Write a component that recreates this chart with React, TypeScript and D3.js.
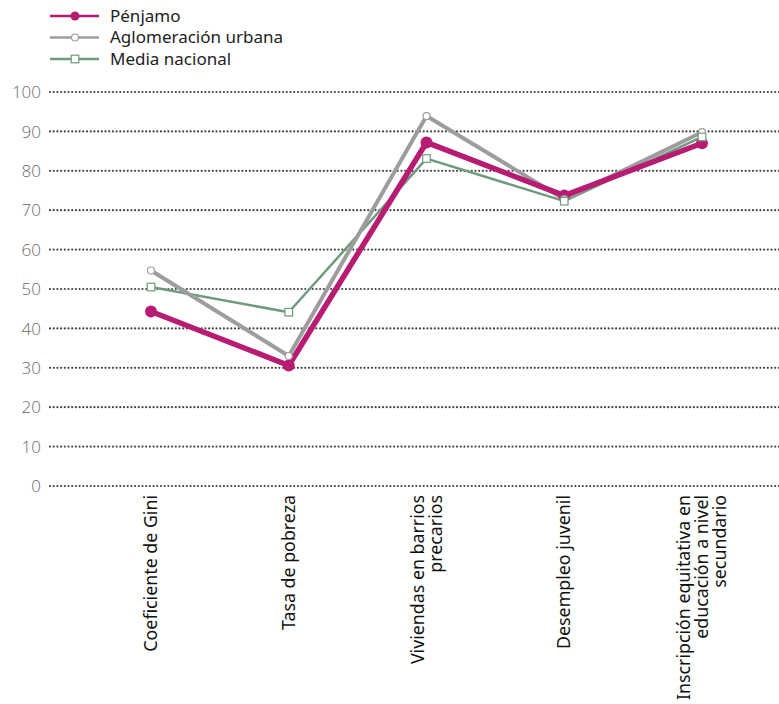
import React, { useEffect, useRef } from 'react';
import * as d3 from 'd3';

// categorías del eje x (con saltos de línea)
const categories = [
  ['Coeficiente de Gini'],
  ['Tasa de pobreza'],
  ['Viviendas en barrios', 'precarios'],
  ['Desempleo juvenil'],
  ['Inscripción equitativa en', 'educación a nivel', 'secundario'],
];

const penjamo = [44.3, 30.6, 87.2, 73.7, 87.0];
const aglomeracion = [54.7, 33.0, 93.9, 72.8, 89.8];
const mediaNacional = [50.5, 44.1, 83.1, 72.3, 88.6];

const yTicks = [0, 10, 20, 30, 40, 50, 60, 70, 80, 90, 100];

type Series = {
  name: string;
  values: number[];
  color: string;
  width: number;
  marker: 'dot' | 'circle' | 'square';
};

const series: Series[] = [
  { name: 'Media nacional', values: mediaNacional, color: '#6f9a7c', width: 2.5, marker: 'square' },
  { name: 'Aglomeración urbana', values: aglomeracion, color: '#9d9d9d', width: 4, marker: 'circle' },
  { name: 'Pénjamo', values: penjamo, color: '#b81c72', width: 5.5, marker: 'dot' },
];

const legendOrder = ['Pénjamo', 'Aglomeración urbana', 'Media nacional'];

const W = 779;
const H = 704;

const App: React.FC = () => {
  const svgRef = useRef<SVGSVGElement>(null);

  useEffect(() => {
    if (!svgRef.current) return;
    const svg = d3.select(svgRef.current);
    svg.selectAll('*').remove();

    const keys = categories.map((c) => c.join(' '));
    const x = d3.scalePoint<string>().domain(keys).range([151, 702]);
    const y = d3.scaleLinear().domain([0, 100]).range([486, 92]);

    // líneas de cuadrícula punteadas
    const grid = svg.append('g');
    grid
      .selectAll('line')
      .data(yTicks)
      .enter()
      .append('line')
      .attr('x1', 50)
      .attr('x2', W)
      .attr('y1', (d) => y(d))
      .attr('y2', (d) => y(d))
      .style('stroke', '#444')
      .style('stroke-width', 2.2)
      .style('stroke-linecap', 'round')
      .style('stroke-dasharray', '0 3.7');

    grid
      .selectAll('text')
      .data(yTicks)
      .enter()
      .append('text')
      .attr('x', 41)
      .attr('y', (d) => y(d))
      .attr('dy', '0.36em')
      .attr('text-anchor', 'end')
      .style('font-family', '"Open Sans", sans-serif')
      .style('font-weight', '300')
      .style('font-size', '17px')
      .style('fill', '#6a6a6a')
      .text((d) => d);

    // etiquetas de categoría rotadas
    const labels = svg.append('g');
    categories.forEach((lines, i) => {
      const cx = x(keys[i])!;
      const lh = 18;
      const x0 = cx - ((lines.length - 1) * lh) / 2;
      const t = labels
        .append('text')
        .attr('transform', `translate(${x0 + 6},495) rotate(-90)`)
        .attr('text-anchor', 'end')
        .style('font-family', '"Noto Sans", sans-serif')
        .style('font-size', '17.8px')
        .style('fill', '#111');
      lines.forEach((l, j) => {
        t.append('tspan').attr('x', 0).attr('y', j * lh).text(l);
      });
    });

    const line = d3
      .line<number>()
      .x((_, i) => x(keys[i])!)
      .y((d) => y(d));

    const lines = svg.append('g');
    series.forEach((s) => {
      lines
        .append('path')
        .attr('d', line(s.values))
        .style('fill', 'none')
        .style('stroke', s.color)
        .style('stroke-width', s.width)
        .style('stroke-linejoin', 'round');
    });

    const drawMarker = (
      g: d3.Selection<SVGGElement, unknown, null, undefined>,
      s: Series,
      px: number,
      py: number,
    ) => {
      if (s.marker === 'dot') {
        g.append('circle').attr('cx', px).attr('cy', py).attr('r', 6).style('fill', s.color);
      } else if (s.marker === 'circle') {
        g.append('circle')
          .attr('cx', px)
          .attr('cy', py)
          .attr('r', 3.5)
          .style('fill', '#fff')
          .style('stroke', s.color)
          .style('stroke-width', 1.2);
      } else {
        g.append('rect')
          .attr('x', px - 3.8)
          .attr('y', py - 3.8)
          .attr('width', 7.6)
          .attr('height', 7.6)
          .style('fill', '#fff')
          .style('stroke', s.color)
          .style('stroke-width', 1.2);
      }
    };

    const markers = svg.append('g');
    [...series].reverse().forEach((s) => {
      s.values.forEach((v, i) => drawMarker(markers, s, x(keys[i])!, y(v)));
    });

    // leyenda
    const legend = svg.append('g');
    legendOrder.forEach((name, i) => {
      const s = series.find((d) => d.name === name)!;
      const ly = 16 + i * 21.5;
      legend
        .append('line')
        .attr('x1', 50)
        .attr('x2', 99)
        .attr('y1', ly)
        .attr('y2', ly)
        .style('stroke', s.color)
        .style('stroke-width', 2.5);
      const g = legend.append('g');
      if (s.marker === 'dot') {
        g.append('circle').attr('cx', 75).attr('cy', ly).attr('r', 4.5).style('fill', s.color);
      } else {
        drawMarker(g, s, 75, ly);
      }
      legend
        .append('text')
        .attr('x', 110)
        .attr('y', ly)
        .attr('dy', '0.35em')
        .style('font-family', '"Noto Sans", sans-serif')
        .style('font-size', '17px')
        .style('fill', '#222')
        .text(name);
    });
  }, []);

  return (
    <svg
      ref={svgRef}
      width={W}
      height={H}
      style={{ position: 'absolute', left: 0, top: 0, background: '#fff' }}
    />
  );
};

export default App;
